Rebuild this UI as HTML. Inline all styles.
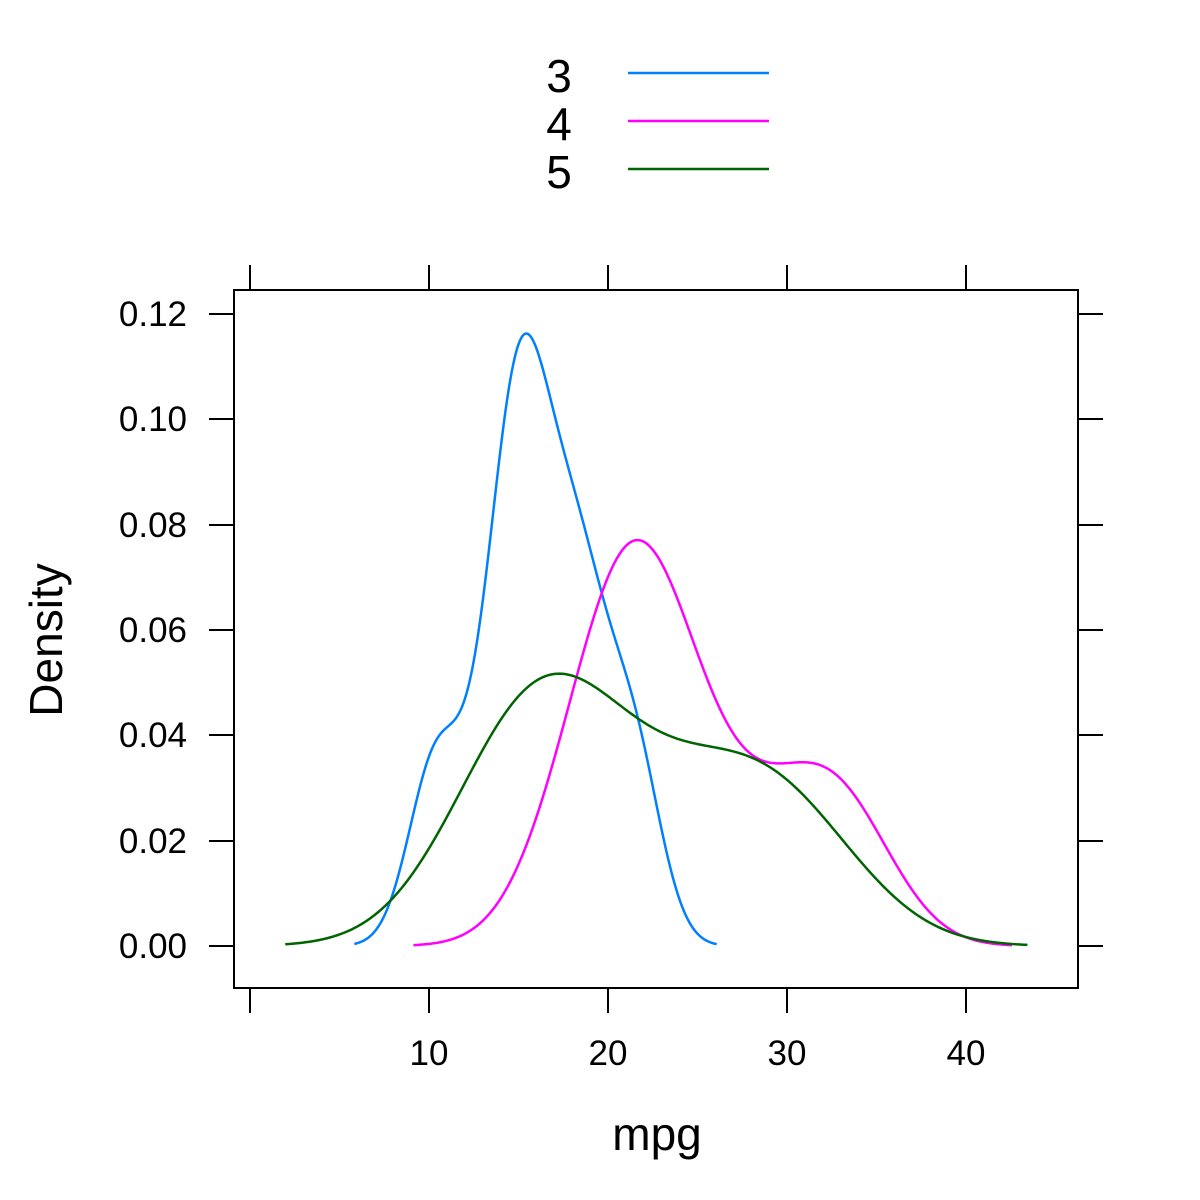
<!DOCTYPE html>
<html><head><meta charset="utf-8"><style>
html,body{margin:0;padding:0;background:#fff}
svg{display:block}
text{font-family:"Liberation Sans",sans-serif;fill:#000}
</style></head><body>
<svg id="s" width="1200" height="1200" viewBox="0 0 1200 1200" xmlns="http://www.w3.org/2000/svg">
<rect width="1200" height="1200" fill="#fff"/>
<g font-size="46" text-anchor="middle">
<text x="559" y="92">3</text><text x="559" y="140">4</text><text x="559" y="188">5</text>
</g>
<line x1="628" y1="73" x2="769" y2="73" stroke="#0080ff" stroke-width="2.5"/>
<line x1="628" y1="121" x2="769" y2="121" stroke="#ff00ff" stroke-width="2.5"/>
<line x1="628" y1="169" x2="769" y2="169" stroke="#006400" stroke-width="2.5"/>
<rect x="234" y="290" width="844" height="698" fill="none" stroke="#000" stroke-width="2"/>
<g stroke="#000" stroke-width="2">
<line x1="250" y1="265" x2="250" y2="290"/><line x1="429" y1="265" x2="429" y2="290"/><line x1="608" y1="265" x2="608" y2="290"/><line x1="787" y1="265" x2="787" y2="290"/><line x1="966" y1="265" x2="966" y2="290"/>
<line x1="250" y1="988" x2="250" y2="1013"/><line x1="429" y1="988" x2="429" y2="1013"/><line x1="608" y1="988" x2="608" y2="1013"/><line x1="787" y1="988" x2="787" y2="1013"/><line x1="966" y1="988" x2="966" y2="1013"/>
<line x1="209" y1="946" x2="234" y2="946"/><line x1="209" y1="841" x2="234" y2="841"/><line x1="209" y1="735" x2="234" y2="735"/><line x1="209" y1="630" x2="234" y2="630"/><line x1="209" y1="525" x2="234" y2="525"/><line x1="209" y1="419" x2="234" y2="419"/><line x1="209" y1="314" x2="234" y2="314"/>
<line x1="1078" y1="946" x2="1103" y2="946"/><line x1="1078" y1="841" x2="1103" y2="841"/><line x1="1078" y1="735" x2="1103" y2="735"/><line x1="1078" y1="630" x2="1103" y2="630"/><line x1="1078" y1="525" x2="1103" y2="525"/><line x1="1078" y1="419" x2="1103" y2="419"/><line x1="1078" y1="314" x2="1103" y2="314"/>
</g>
<g font-size="35" text-anchor="middle">
<text x="429" y="1065">10</text><text x="608" y="1065">20</text><text x="787" y="1065">30</text><text x="966" y="1065">40</text>
</g>
<g font-size="35" text-anchor="end">
<text x="187" y="958">0.00</text><text x="187" y="853">0.02</text><text x="187" y="747">0.04</text><text x="187" y="642">0.06</text><text x="187" y="537">0.08</text><text x="187" y="431">0.10</text><text x="187" y="326">0.12</text>
</g>
<text x="657" y="1150" font-size="46" text-anchor="middle">mpg</text>
<text transform="translate(62,640) rotate(-90)" font-size="46" text-anchor="middle">Density</text>
<g id="curves" fill="none" stroke-width="2.5"></g>
</svg>
<script>
var D={"#0080ff":[21.4,18.7,18.1,14.3,16.4,17.3,15.2,10.4,10.4,14.7,15.5,15.2,13.3,19.2,21.5],
"#ff00ff":[21,21,22.8,24.4,22.8,19.2,17.8,32.4,30.4,33.9,27.3,21.4],
"#006400":[26,30.4,15.8,19.7,15.0]};
function q(a,p){var s=a.slice().sort(function(x,y){return x-y});var h=(s.length-1)*p,l=Math.floor(h);return s[l]+(h-l)*((s[l+1]===undefined?s[l]:s[l+1])-s[l]);}
var g=document.getElementById("curves");
for(var c in D){var a=D[c],n=a.length,m=0;a.forEach(function(v){m+=v});m/=n;var v=0;a.forEach(function(x){v+=(x-m)*(x-m)});var sd=Math.sqrt(v/(n-1));
var iqr=(q(a,.75)-q(a,.25))/1.34;var lo=Math.min(sd,iqr);if(!(lo>0))lo=sd;var bw=0.9*lo*Math.pow(n,-0.2);
var mn=Math.min.apply(null,a)-3*bw,mx=Math.max.apply(null,a)+3*bw,pts=[];
for(var i=0;i<=400;i++){var x=mn+(mx-mn)*i/400,d=0;a.forEach(function(xi){var z=(x-xi)/bw;d+=Math.exp(-z*z/2)});d/=n*bw*Math.sqrt(2*Math.PI);
pts.push((250+x*17.9).toFixed(2)+","+(946-d*5266.7).toFixed(2));}
var p=document.createElementNS("http://www.w3.org/2000/svg","polyline");p.setAttribute("points",pts.join(" "));p.setAttribute("stroke",c);g.appendChild(p);}
</script>
</body></html>
